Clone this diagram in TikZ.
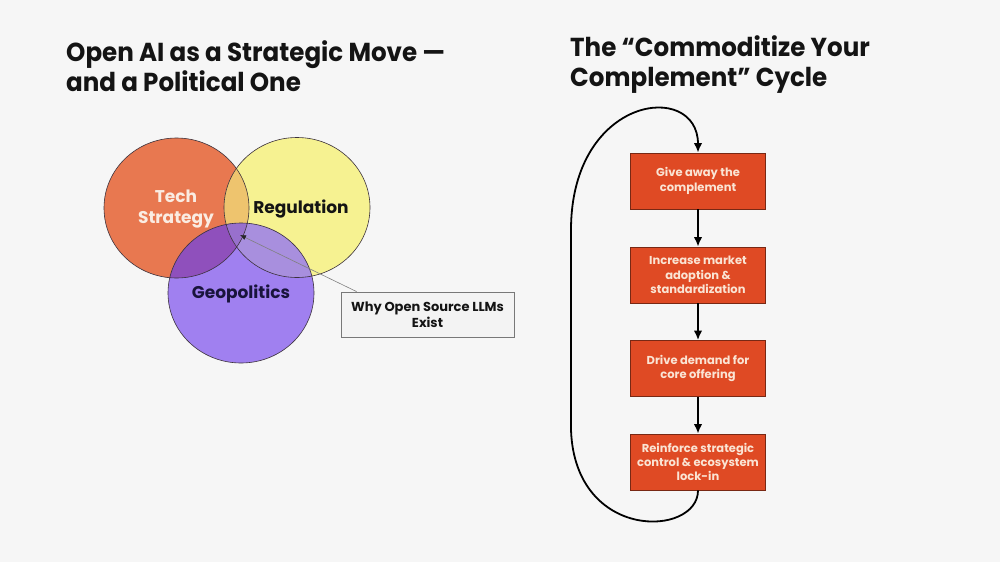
\documentclass[tikz,border=0pt]{standalone}
\usepackage{fontspec}
\setmainfont{Poppins}
\newfontfamily\titlefamily{Poppins}[FakeStretch=0.945]
\usetikzlibrary{arrows.meta}
\definecolor{bgc}{RGB}{246,246,246}
\definecolor{titlec}{RGB}{20,20,20}
\definecolor{orangec}{RGB}{232,120,80}
\definecolor{yellowc}{RGB}{246,242,145}
\definecolor{lensc}{RGB}{238,196,110}
\definecolor{purplec}{RGB}{160,128,240}
\definecolor{pinkpurp}{RGB}{143,80,188}
\definecolor{lavc}{RGB}{168,143,222}
\definecolor{triplec}{RGB}{152,112,205}
\definecolor{outc}{RGB}{60,50,60}
\definecolor{techtext}{RGB}{250,236,226}
\definecolor{geotext}{RGB}{25,20,60}
\definecolor{boxfill}{RGB}{223,74,36}
\definecolor{boxline}{RGB}{120,40,20}
\definecolor{boxtext}{RGB}{250,228,212}
\definecolor{callfill}{RGB}{243,243,243}
\definecolor{callline}{RGB}{120,120,120}
\tikzset{
  titletext/.style={anchor=north west, inner sep=0pt, align=left, text=titlec,
    font=\titlefamily\fontsize{26}{30}\selectfont\bfseries},
  vennlabel/.style={inner sep=0pt, align=center,
    font=\fontsize{17}{21}\selectfont\bfseries},
  callout/.style={draw=callline, fill=callfill, line width=0.8pt, align=center,
    minimum width=173pt, minimum height=45pt, inner sep=0pt, text=titlec,
    font=\fontsize{13}{16}\selectfont\bfseries},
  stepbox/.style={draw=boxline, fill=boxfill, line width=0.8pt, align=center,
    minimum width=135pt, minimum height=56pt, inner sep=0pt, text=boxtext,
    font=\fontsize{11.5}{14.3}\selectfont\bfseries},
  flow/.style={line width=1.8pt, draw=black, -{Latex[length=9.5pt,width=8.5pt]}},
  vennout/.style={draw=outc, line width=0.6pt},
  pointer/.style={draw=gray, line width=0.6pt, -{Latex[length=6pt,width=5pt,color=black!85]}},
}
\begin{document}
\begin{tikzpicture}[x=1pt,y=-1pt]
\fill[bgc] (0,0) rectangle (1000,562);
\useasboundingbox (0,0) rectangle (1000,562);

% titles
\node[titletext] (tleft) at (66,40) {Open AI as a Strategic Move —\\and a Political One};
\node[titletext] (tright) at (570,35) {The “Commoditize Your\\Complement” Cycle};

% venn
\def\EO{(176.5,208) ellipse [x radius=72.5pt, y radius=70pt]}
\def\EY{(297,207.5) ellipse [x radius=73pt, y radius=70pt]}
\def\EP{(241,293) ellipse [x radius=73pt, y radius=70pt]}
\fill[orangec] \EO;
\fill[yellowc] \EY;
\begin{scope}\clip \EO; \fill[lensc] \EY; \end{scope}
\fill[purplec] \EP;
\begin{scope}\clip \EP; \fill[pinkpurp] \EO; \end{scope}
\begin{scope}\clip \EP; \fill[lavc] \EY; \end{scope}
\begin{scope}\clip \EP; \clip \EO; \fill[triplec] \EY; \end{scope}
\draw[vennout] \EO;
\draw[vennout] \EY;
\draw[vennout] \EP;

\node[vennlabel, text=techtext] (tech) at (176,209) {Tech\\Strategy};
\node[vennlabel, text=titlec] (reg) at (301,209) {Regulation};
\node[vennlabel, text=geotext] (geo) at (241,294) {Geopolitics};

\node[callout] (why) at (427.5,314.5) {Why Open Source LLMs\\Exist};
\coordinate (core) at (240,235);
\draw[pointer] ([xshift=16pt]why.north west) -- (core);

% cycle
\node[stepbox] (s1) at (698,181) {Give away the\\complement};
\node[stepbox] (s2) at (698,275) {Increase market\\adoption \&\\standardization};
\node[stepbox] (s3) at (698,368.5) {Drive demand for\\core offering};
\node[stepbox] (s4) at (698,462) {Reinforce strategic\\control \& ecosystem\\lock-in};
\draw[flow] (s1) -- (s2);
\draw[flow] (s2) -- (s3);
\draw[flow] (s3) -- (s4);
\coordinate (lowleft) at (571,430);
\coordinate (upleft) at (571,230);
\draw[flow] (s4.south) .. controls (698,537) and (575,542) .. (lowleft) -- (upleft)
  .. controls (571,95) and (698,80) .. (s1.north);
\end{tikzpicture}
\end{document}
